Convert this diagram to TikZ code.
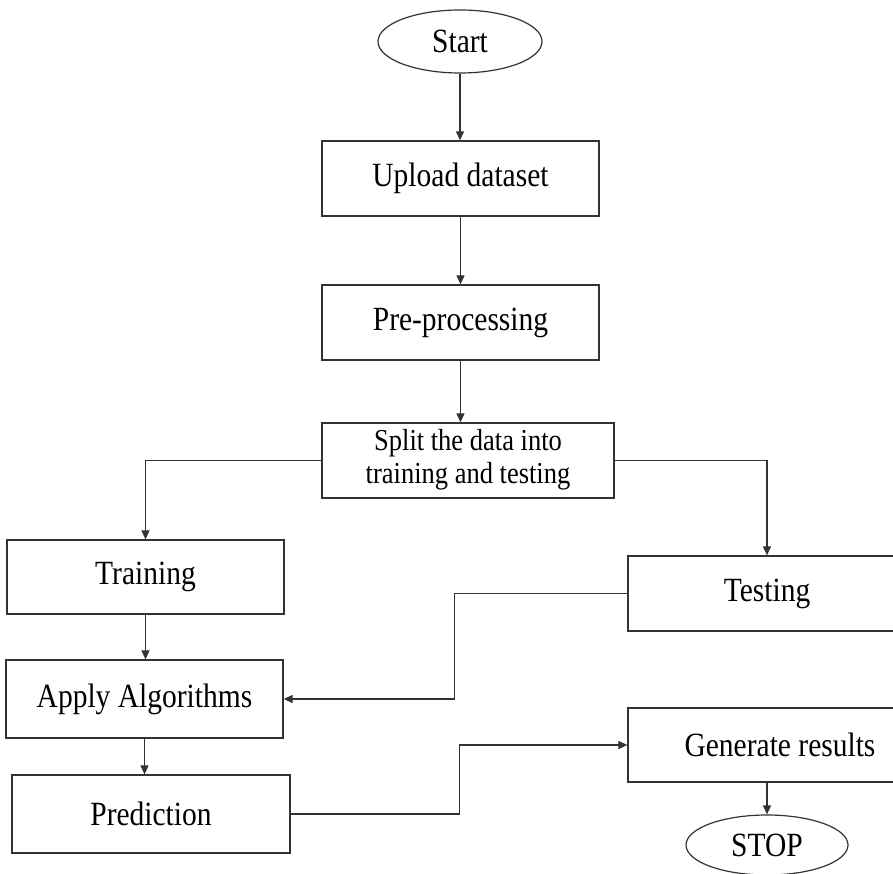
\documentclass[tikz,border=0pt]{standalone}
\usepackage{fontspec}
\usepackage{graphicx}
\setmainfont{Liberation Serif}
\usetikzlibrary{arrows.meta,shapes.geometric}
\newcommand{\vtext}[1]{\scalebox{1}[1.15]{#1}}

\begin{document}
\begin{tikzpicture}[x=1pt,y=1pt,yscale=-1,
  box/.style={draw=black!80,line width=1.3pt,rectangle,inner sep=0pt,font=\fontsize{29.5}{34}\selectfont},
  oval/.style={draw=black!80,line width=1.2pt,ellipse,inner sep=0pt,font=\fontsize{29.5}{34}\selectfont},
  flow/.style={draw=black!80,line width=1.2pt,-{Triangle[length=9pt,width=8pt]}}]
\useasboundingbox (0,0) rectangle (893,874);

%Shape: Ellipse
\node [oval,minimum width=164,minimum height=63] (start) at (460,41.5) {\vtext{Start}};
%Shape: Rectangle
\node [box,minimum width=277,minimum height=75] (upload) at (460.5,178.5) {\vtext{Upload dataset}};
\node [box,minimum width=277,minimum height=75] (prep) at (460.5,322.5) {\vtext{Pre-processing}};
\node [box,minimum width=292,minimum height=75,
  font=\fontsize{26.5}{28.7}\selectfont] (split) at (468,460.5)
  {\vtext{\begin{tabular}{@{}c@{}}Split the data into\\training and testing\end{tabular}}};
\node [box,minimum width=277,minimum height=74] (train) at (145.5,577) {\vtext{Training}};
\node [box,minimum width=278,minimum height=75] (test) at (767,593.5) {\vtext{Testing}};
\node [box,minimum width=277,minimum height=78] (apply) at (144.5,699) {\vtext{Apply Algorithms}};
\node [box,minimum width=278,minimum height=78] (pred) at (151,814) {\vtext{Prediction}};
\node [box,minimum width=304,minimum height=74] (gen) at (780,745) {\vtext{Generate results}};
\node [oval,minimum width=162,minimum height=60] (stop) at (767,845) {\vtext{STOP}};

%Straight Lines
\draw [flow] (start.south) -- (start.south |- upload.north);
\draw [flow] (upload.south) -- (upload.south |- prep.north);
\draw [flow] (prep.south) -- (prep.south |- split.north);
\draw [flow] (split.west) -| (train.north);
\draw [flow] (split.east) -| (test.north);
\draw [flow] (train.south) -- (train.south |- apply.north);
\draw [flow] (apply.south) -- (apply.south |- pred.north);
\draw [flow] (test.west) -- ++(-173,0) |- (apply.east);
\draw [flow] (pred.east) -- ++(169,0) |- (gen.west);
\draw [flow] (stop.north |- gen.south) -- (stop.north);

\end{tikzpicture}
\end{document}
